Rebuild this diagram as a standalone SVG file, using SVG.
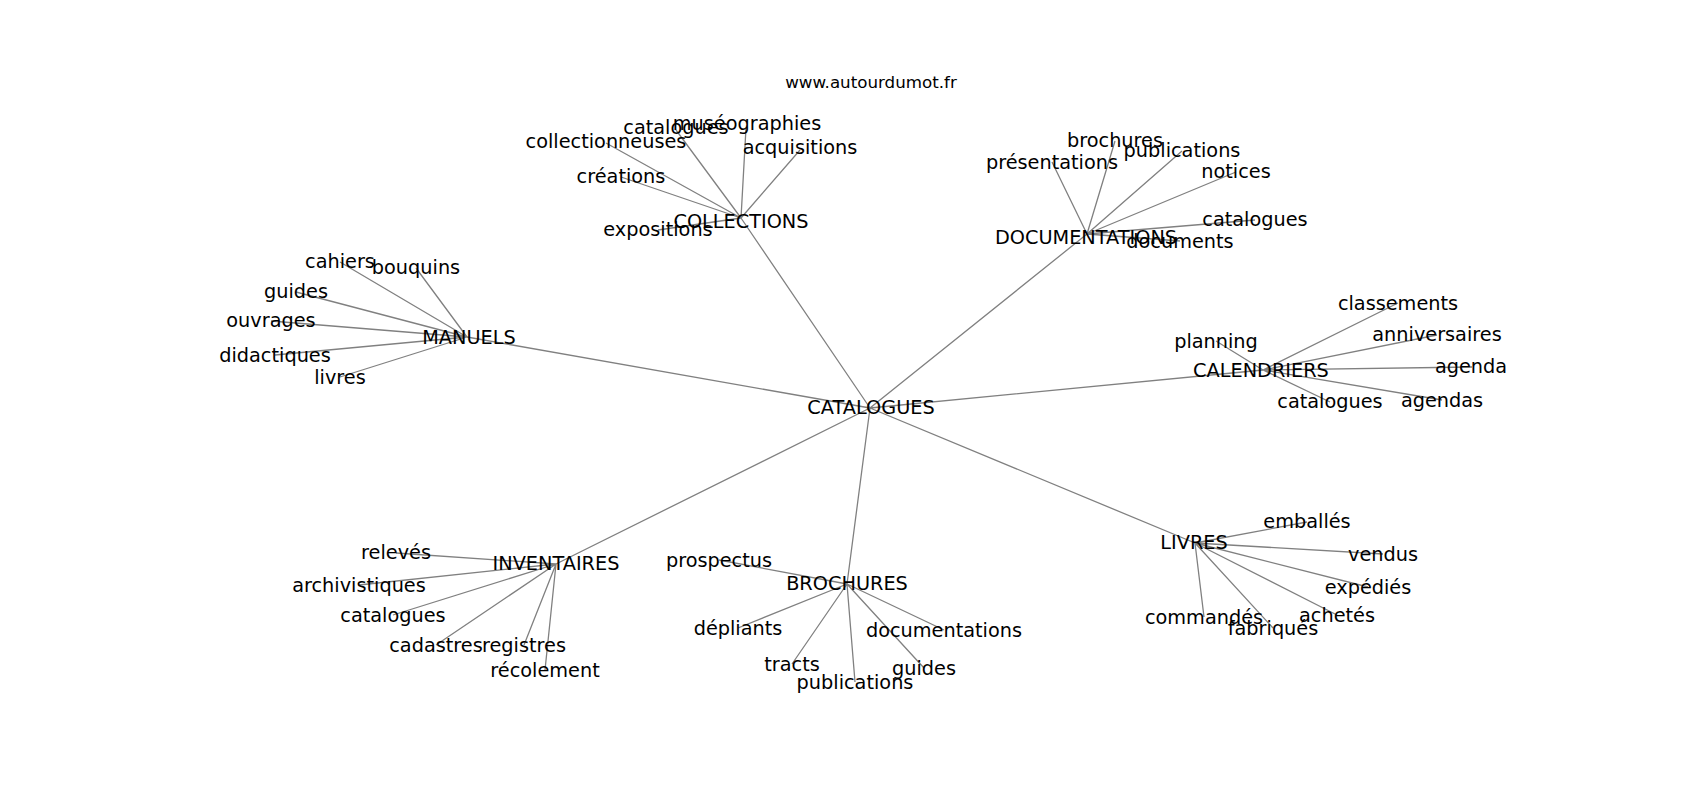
<svg xmlns="http://www.w3.org/2000/svg" width="1700" height="800" viewBox="0 0 1700 800">
<style>
.e{stroke:#808080;stroke-width:1.3;fill:none}
text{font-family:"DejaVu Sans","Liberation Sans",sans-serif;font-size:19.3px;fill:#000;text-anchor:middle}
.t{font-size:16.7px}
</style>
<rect width="1700" height="800" fill="#fff"/>
<g id="edges">
<path class="e" d="M870,408L741,218M870,408L1087,234M870,408L467,337M870,408L1263,370M870,408L556,564M870,408L847,584M870,408L1195,543"/>
<path class="e" d="M741,218L606,143M741,218L676,130M741,218L746,128M741,218L800,150M741,218L621,177M741,218L658,230"/>
<path class="e" d="M1087,234L1115,141M1087,234L1182,151M1087,234L1052,162M1087,234L1236,172M1087,234L1255,220M1087,234L1180,241"/>
<path class="e" d="M467,337L340,262M467,337L416,268M467,337L296,292M467,337L271,321M467,337L275,355M467,337L340,377"/>
<path class="e" d="M1263,370L1398,303M1263,370L1216,341M1263,370L1437,335M1263,370L1472,367M1263,370L1330,402M1263,370L1442,400"/>
<path class="e" d="M556,564L396,553M556,564L359,585M556,564L393,615M556,564L436,645M556,564L524,645M556,564L545,670"/>
<path class="e" d="M847,584L719,560M847,584L738,628M847,584L944,630M847,584L792,664M847,584L924,668M847,584L855,682"/>
<path class="e" d="M1195,543L1307,522M1195,543L1383,554M1195,543L1368,587M1195,543L1337,615M1195,543L1204,617M1195,543L1273,628"/>
</g>
<g id="title"><text class="t" x="871" y="88">www.autourdumot.fr</text></g>
<g id="n-catalogues"><text x="871" y="414">CATALOGUES</text></g>
<g id="n-collections"><text x="741" y="228">COLLECTIONS</text></g>
<g id="n-documentations"><text x="1086" y="244">DOCUMENTATIONS</text></g>
<g id="n-manuels"><text x="469" y="344">MANUELS</text></g>
<g id="n-calendriers"><text x="1261" y="377">CALENDRIERS</text></g>
<g id="n-inventaires"><text x="556" y="570">INVENTAIRES</text></g>
<g id="n-brochures"><text x="847" y="590">BROCHURES</text></g>
<g id="n-livres"><text x="1194" y="549">LIVRES</text></g>
<g id="n-collectionneuses"><text x="606" y="148">collectionneuses</text></g>
<g id="n-catalogues1"><text x="676" y="134">catalogues</text></g>
<g id="n-museographies"><text x="747" y="130">muséographies</text></g>
<g id="n-acquisitions"><text x="800" y="154">acquisitions</text></g>
<g id="n-creations"><text x="621" y="183">créations</text></g>
<g id="n-expositions"><text x="658" y="236">expositions</text></g>
<g id="n-brochures2"><text x="1115" y="147">brochures</text></g>
<g id="n-publications"><text x="1182" y="157">publications</text></g>
<g id="n-presentations"><text x="1052" y="169">présentations</text></g>
<g id="n-notices"><text x="1236" y="178">notices</text></g>
<g id="n-catalogues2"><text x="1255" y="226">catalogues</text></g>
<g id="n-documents"><text x="1180" y="248">documents</text></g>
<g id="n-cahiers"><text x="340" y="268">cahiers</text></g>
<g id="n-bouquins"><text x="416" y="274">bouquins</text></g>
<g id="n-guides"><text x="296" y="298">guides</text></g>
<g id="n-ouvrages"><text x="271" y="327">ouvrages</text></g>
<g id="n-didactiques"><text x="275" y="362">didactiques</text></g>
<g id="n-livres"><text x="340" y="384">livres</text></g>
<g id="n-classements"><text x="1398" y="310">classements</text></g>
<g id="n-planning"><text x="1216" y="348">planning</text></g>
<g id="n-anniversaires"><text x="1437" y="341">anniversaires</text></g>
<g id="n-agenda"><text x="1471" y="373">agenda</text></g>
<g id="n-catalogues3"><text x="1330" y="408">catalogues</text></g>
<g id="n-agendas"><text x="1442" y="407">agendas</text></g>
<g id="n-releves"><text x="396" y="559">relevés</text></g>
<g id="n-archivistiques"><text x="359" y="592">archivistiques</text></g>
<g id="n-catalogues4"><text x="393" y="622">catalogues</text></g>
<g id="n-cadastres"><text x="436" y="652">cadastres</text></g>
<g id="n-registres"><text x="524" y="652">registres</text></g>
<g id="n-recolement"><text x="545" y="677">récolement</text></g>
<g id="n-prospectus"><text x="719" y="567">prospectus</text></g>
<g id="n-depliants"><text x="738" y="635">dépliants</text></g>
<g id="n-documentations2"><text x="944" y="637">documentations</text></g>
<g id="n-tracts"><text x="792" y="671">tracts</text></g>
<g id="n-guides2"><text x="924" y="675">guides</text></g>
<g id="n-publications2"><text x="855" y="689">publications</text></g>
<g id="n-emballes"><text x="1307" y="528">emballés</text></g>
<g id="n-vendus"><text x="1383" y="561">vendus</text></g>
<g id="n-expedies"><text x="1368" y="594">expédiés</text></g>
<g id="n-achetes"><text x="1337" y="622">achetés</text></g>
<g id="n-commandes"><text x="1204" y="624">commandés</text></g>
<g id="n-fabriques"><text x="1273" y="635">fabriqués</text></g>
</svg>
